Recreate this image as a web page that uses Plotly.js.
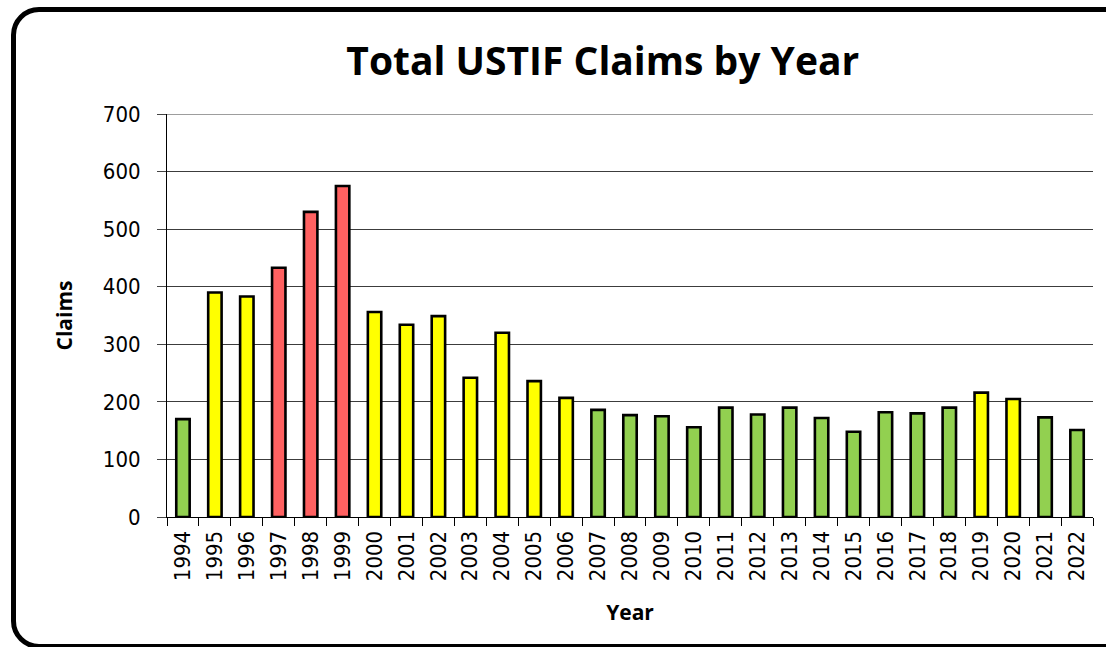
<!DOCTYPE html>
<html>
<head>
<meta charset="utf-8">
<script src="https://cdn.plot.ly/plotly-3.0.1.min.js"></script>
<style>
  html, body { margin:0; padding:0; background:#fff; overflow:hidden; }
  #wrap { position:relative; width:1106px; height:647px; overflow:hidden; }
  #chart { position:absolute; left:0; top:0; width:1106px; height:647px; }
  #frame { position:absolute; left:11px; top:7px; width:1125px; height:642px; box-sizing:border-box;
           border:5px solid #000; border-radius:28px; pointer-events:none; }
</style>
</head>
<body>
<div id="wrap">
  <div id="chart"></div>
  <div id="frame"></div>
</div>
<script>
const years = ["1994","1995","1996","1997","1998","1999","2000","2001","2002","2003","2004","2005","2006","2007","2008","2009","2010","2011","2012","2013","2014","2015","2016","2017","2018","2019","2020","2021","2022"];
const claims = [170,390,383,433,530,575,356,334,349,242,320,236,207,186,177,175,156,190,178,190,172,148,182,180,190,216,205,173,151];
const levels = ["g","y","y","r","r","r","y","y","y","y","y","y","y","g","g","g","g","g","g","g","g","g","g","g","g","y","y","g","g"];
const levelColors = { g:"#92D050", y:"#FFFF00", r:"#FF6161" };
const yTicks = [0,100,200,300,400,500,600,700];

const tickFont = "DejaVu Sans Condensed, DejaVu Sans, sans-serif";

const trace = {
  type: "bar",
  x: years,
  y: claims,
  marker: { color: levels.map(l => levelColors[l]), line: { color: "#000", width: 2.6 } },
  hoverinfo: "x+y"
};

const layout = {
  width: 1106, height: 647,
  margin: { l: 167, r: 13, t: 114, b: 130 },
  paper_bgcolor: "rgba(0,0,0,0)",
  plot_bgcolor: "#fff",
  bargap: 0.58,
  showlegend: false,
  font: { family: "Open Sans, sans-serif", color: "#000" },
  title: {
    text: "<b>Total USTIF Claims by Year</b>",
    font: { family: "Open Sans, sans-serif", size: 39, color: "#000" },
    xref: "container", x: 0.545, xanchor: "center",
    yref: "container", y: 0.905, yanchor: "middle"
  },
  shapes: [{
    type: "line", xref: "paper", yref: "y",
    x0: 0, x1: 1, y0: yTicks[yTicks.length - 1], y1: yTicks[yTicks.length - 1],
    line: { color: "#3c3c3c", width: 1 }
  }],
  xaxis: {
    type: "category",
    tickson: "boundaries",
    ticks: "outside", ticklen: 8, tickcolor: "#000", tickwidth: 1,
    tickangle: -90,
    ticklabelstandoff: 4,
    tickfont: { size: 22, family: tickFont, color: "#000" },
    showline: true, linecolor: "#000", linewidth: 1,
    showgrid: false,
    title: { text: "<b>Year</b>", font: { size: 21, family: "Open Sans, sans-serif", color: "#000" }, standoff: 25 }
  },
  yaxis: {
    range: [0, 700],
    tickvals: yTicks,
    ticktext: yTicks.map(String),
    ticks: "outside", ticklen: 9, tickcolor: "#444", tickwidth: 1,
    ticklabelstandoff: 12,
    tickfont: { size: 22, family: tickFont, color: "#000" },
    showline: true, linecolor: "#000", linewidth: 1,
    showgrid: true, gridcolor: "#3c3c3c", gridwidth: 1,
    zeroline: false,
    title: { text: "<b>Claims</b>", font: { size: 21, family: "Open Sans, sans-serif", color: "#000" }, standoff: 24 }
  }
};

Plotly.newPlot("chart", [trace], layout, { displayModeBar: false, staticPlot: true });
</script>
</body>
</html>
